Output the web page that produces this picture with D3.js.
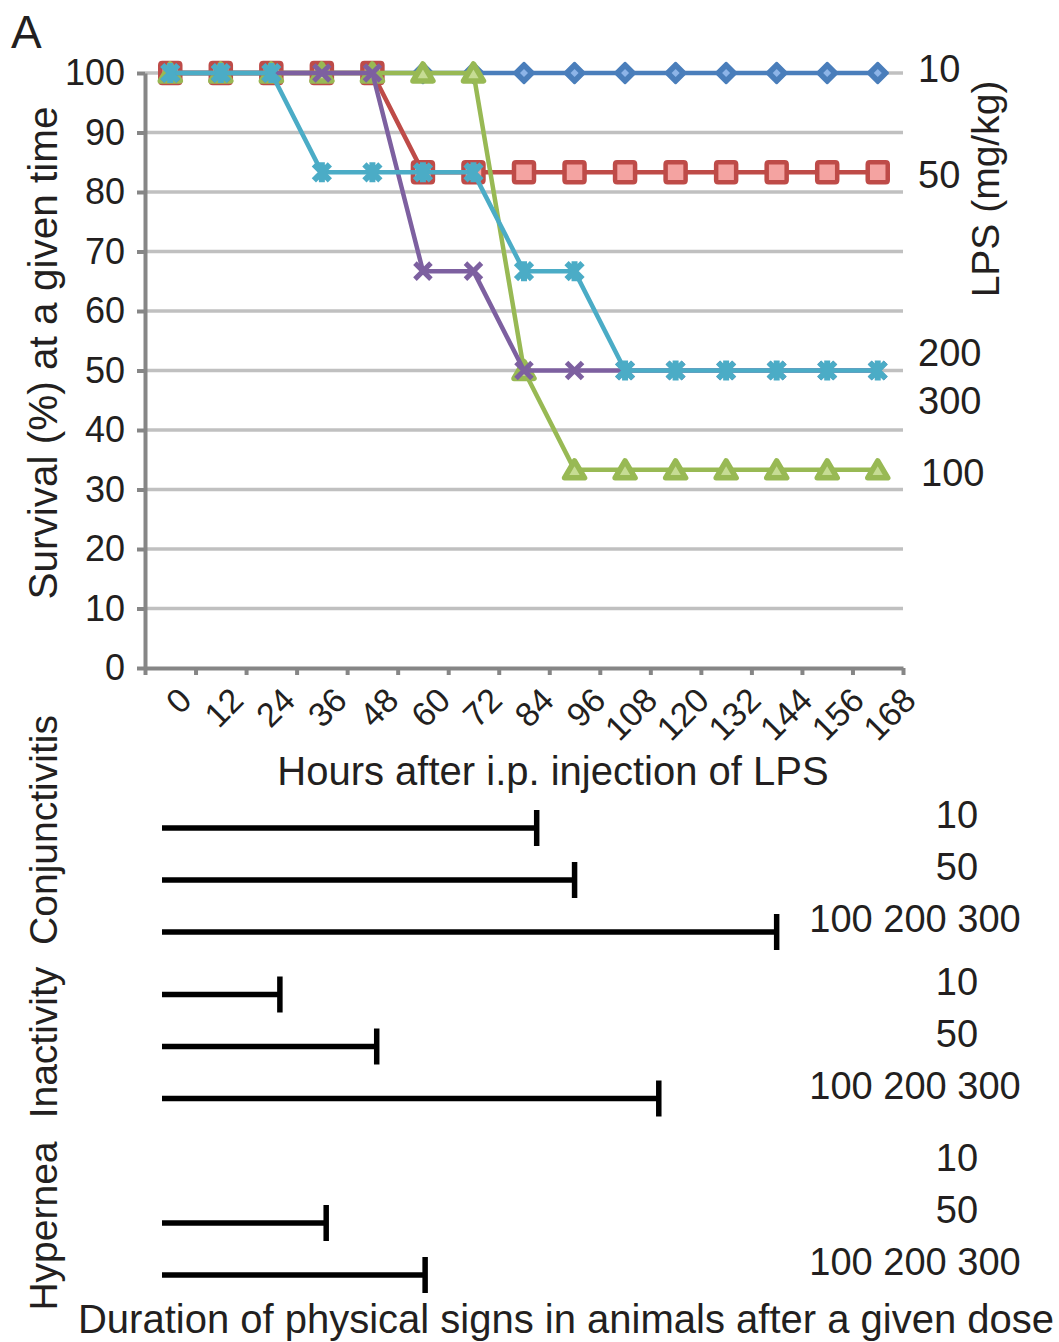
<!DOCTYPE html>
<html><head><meta charset="utf-8">
<script src="https://cdn.jsdelivr.net/npm/d3@7"></script>
<style>
body{margin:0;background:#fff}
text{font-family:"Liberation Sans",Arial,Helvetica,sans-serif;fill:#231f20}
</style>
</head><body>
<svg id="c" width="1059" height="1342"></svg>
<script>
// ---------- data ----------
const hours = [0,12,24,36,48,60,72,84,96,108,120,132,144,156,168];
const yTicks = [0,10,20,30,40,50,60,70,80,90,100];
const doses = ["10","50","100","200","300"];
const surv10  = [100,100,100,100,100,100,100,100,100,100,100,100,100,100,100];
const surv50  = [100,100,100,100,100,83.3,83.3,83.3,83.3,83.3,83.3,83.3,83.3,83.3,83.3];
const surv100 = [100,100,100,100,100,100,100,50,33.3,33.3,33.3,33.3,33.3,33.3,33.3];
const surv200 = [100,100,100,100,100,66.7,66.7,50,50,50,50,50,50,50,50];
const surv300 = [100,100,100,83.3,83.3,83.3,83.3,66.7,66.7,50,50,50,50,50,50];

const signs = ["Conjunctivitis","Inactivity","Hypernea"];
const doseGroups = ["10","50","100 200 300"];
const conjDur  = [89, 98, 146];
const inactDur = [28, 51, 118];
const hyperDur = [null, 39, 62.5];

// ---------- setup ----------
const svg = d3.select("#c");
const L = 145, R = 903, T = 73, B = 668;
const x = d3.scaleBand().domain(hours).range([L, R]);
const cx = h => x(h) + x.bandwidth()/2;
const y = d3.scaleLinear().domain([0,100]).range([B, T]);
const axisCol = "#868686", gridCol = "#c0c0c0";

// panel letter
svg.append("text").attr("x", 11).attr("y", 48).attr("font-size", 46).text("A");

// gridlines
svg.append("g").selectAll("line").data(yTicks.filter(d => d > 0)).join("line")
  .attr("x1", L).attr("x2", R).attr("y1", d => y(d)).attr("y2", d => y(d))
  .attr("stroke", gridCol).attr("stroke-width", 3.5);

// y axis
const gy = svg.append("g").attr("transform", `translate(${L},0)`)
  .call(d3.axisLeft(y).tickValues(yTicks).tickSize(8).tickSizeOuter(0).tickPadding(12));
gy.select(".domain").attr("stroke", axisCol).attr("stroke-width", 4);
gy.selectAll(".tick line").attr("stroke", axisCol).attr("stroke-width", 4);
gy.selectAll(".tick text").attr("font-size", 36).attr("font-family", null).attr("fill", "#231f20");

// x axis (ticks at category boundaries)
const xb = d3.scaleLinear().domain([0, hours.length]).range([L, R]);
const gx = svg.append("g").attr("transform", `translate(0,${B})`)
  .call(d3.axisBottom(xb).tickValues(d3.range(hours.length + 1)).tickSize(7).tickSizeOuter(0).tickFormat(""));
gx.select(".domain").attr("stroke", axisCol).attr("stroke-width", 4);
gx.selectAll(".tick line").attr("stroke", axisCol).attr("stroke-width", 4);

svg.append("g").selectAll("text").data(hours).join("text")
  .attr("transform", (d, i) => `translate(${cx(d) + 15 + i * 1.2},${B + 26}) rotate(-45)`)
  .attr("text-anchor", "end").attr("dy", "0.35em").attr("font-size", 34)
  .text(d => d);

// axis titles
svg.append("text").attr("x", 553).attr("y", 785).attr("text-anchor", "middle")
  .attr("font-size", 40).text("Hours after i.p. injection of LPS");
svg.append("text").attr("transform", "translate(57,353) rotate(-90)").attr("text-anchor", "middle")
  .attr("font-size", 40.5).text("Survival (%) at a given time");
svg.append("text").attr("transform", "translate(999,189) rotate(-90)").attr("text-anchor", "middle")
  .attr("font-size", 39).text("LPS (mg/kg)");

// ---------- series ----------
const series = [
  {name: doses[0], vals: surv10,  color: "#4a7ebb", fill: "#8db4e8", marker: "diamond"},
  {name: doses[1], vals: surv50,  color: "#be4b48", fill: "#f4a3a1", marker: "square"},
  {name: doses[2], vals: surv100, color: "#98b954", fill: "#c6dc94", marker: "triangle"},
  {name: doses[3], vals: surv200, color: "#7d60a0", fill: "none",    marker: "x"},
  {name: doses[4], vals: surv300, color: "#4bacc6", fill: "none",    marker: "star"}
];
const markerPath = {
  diamond: "M0,-10L10,0L0,10L-10,0Z",
  square: "M-8,-10H8Q10,-10 10,-8V8Q10,10 8,10H-8Q-10,10 -10,8V-8Q-10,-10 -8,-10Z",
  triangle: "M0,-9L10,8L-10,8Z",
  x: "M-8,-8L8,8M-8,8L8,-8",
  star: "M-8,-8L8,8M-8,8L8,-8M0,-10L0,10"
};
const line = d3.line().x(d => cx(d.h)).y(d => y(d.v));

series.forEach(s => {
  const pts = hours.map((h, i) => ({h, v: s.vals[i]}));
  const g = svg.append("g");
  g.append("path").datum(pts).attr("d", line).attr("fill", "none")
    .attr("stroke", s.color).attr("stroke-width", 4.5).attr("stroke-linejoin", "round");
  const m = g.selectAll("g.m").data(pts).join("g").attr("class", "m")
    .attr("transform", d => `translate(${cx(d.h)},${y(d.v)})`);
  if (s.marker === "diamond") {
    m.append("path").attr("d", markerPath.diamond).attr("fill", s.color)
      .attr("stroke", s.color).attr("stroke-width", 2.5).attr("stroke-linejoin", "round");
    m.append("path").attr("d", "M0,-4L4,0L0,4L-4,0Z").attr("fill", s.fill);
  } else if (s.marker === "square") {
    m.append("path").attr("d", markerPath.square).attr("fill", s.fill)
      .attr("stroke", s.color).attr("stroke-width", 4.5);
  } else if (s.marker === "triangle") {
    m.append("path").attr("d", markerPath.triangle).attr("fill", s.fill)
      .attr("stroke", s.color).attr("stroke-width", 5.5).attr("stroke-linejoin", "round");
  } else {
    m.append("path").attr("d", markerPath[s.marker]).attr("fill", "none")
      .attr("stroke", s.color).attr("stroke-width", s.marker === "star" ? 6 : 5);
  }
});

// right-hand dose labels
const labelNudge = {"10": -4, "50": 2, "100": 3, "200": -18, "300": 30};
svg.append("g").selectAll("text").data(series).join("text")
  .attr("x", d => d.name === "100" ? 921 : 918)
  .attr("y", d => y(d.vals[d.vals.length - 1]) + labelNudge[d.name])
  .attr("dy", "0.35em").attr("font-size", 38).text(d => d.name);

// ---------- bottom panel: duration of physical signs ----------
const xd = d3.scaleLinear().domain([0, 168]).range([162, 162 + 168 * 4.21]);
const yg = d3.scalePoint().domain(signs).range([828, 1171]);
const yr = d3.scalePoint().domain(doseGroups).range([0, 104]);
const durs = [conjDur, inactDur, hyperDur];
const groupShift = {"Conjunctivitis": 0, "Inactivity": -5, "Hypernea": 0};
const groupNudge = {"Conjunctivitis": -50, "Inactivity": -4, "Hypernea": 3};

signs.forEach((sg, gi) => {
  const g = svg.append("g");
  const base = yg(sg) + groupShift[sg];
  const rows = doseGroups.map((dg, i) => ({dg, v: durs[gi][i], yy: base + yr(dg)}));
  const bars = rows.filter(r => r.v != null);
  g.selectAll("line.bar").data(bars).join("line").attr("class", "bar")
    .attr("x1", xd(0)).attr("x2", d => xd(d.v)).attr("y1", d => d.yy).attr("y2", d => d.yy)
    .attr("stroke", "#000").attr("stroke-width", 5.5);
  g.selectAll("line.cap").data(bars).join("line").attr("class", "cap")
    .attr("x1", d => xd(d.v)).attr("x2", d => xd(d.v))
    .attr("y1", d => d.yy - 18).attr("y2", d => d.yy + 18)
    .attr("stroke", "#000").attr("stroke-width", 5.5);
  g.selectAll("text.dl").data(rows).join("text").attr("class", "dl")
    .attr("x", d => d.dg.length > 3 ? 915 : 957)
    .attr("y", d => d.yy - 13).attr("dy", "0.35em")
    .attr("text-anchor", "middle").attr("font-size", 38).text(d => d.dg);
  g.append("text")
    .attr("transform", `translate(57,${base + yr("50") + groupNudge[sg]}) rotate(-90)`)
    .attr("text-anchor", "middle").attr("font-size", 39).text(sg);
});

svg.append("text").attr("x", 566).attr("y", 1333).attr("text-anchor", "middle")
  .attr("font-size", 40).text("Duration of physical signs in animals after a given dose");
</script>
</body></html>
